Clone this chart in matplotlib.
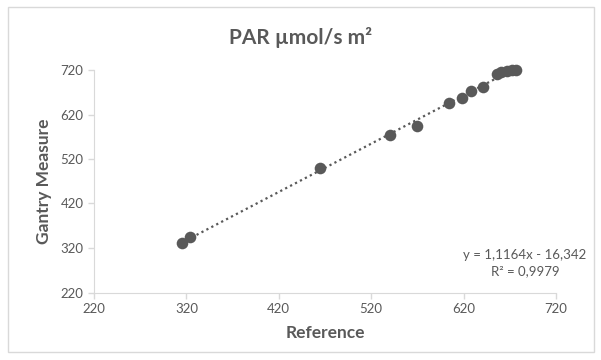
import numpy as np
import matplotlib
matplotlib.use("Agg")
import matplotlib.pyplot as plt
from matplotlib.patches import Rectangle

# values
reference = [315, 324, 465, 540, 570, 604, 618, 628, 641, 656, 661, 667, 672, 677]
gantry = [331, 345, 500, 573, 595, 646, 656, 673, 682, 711, 715, 718, 719, 720]
ticks = [220, 320, 420, 520, 620, 720]
fit_label = "y = 1,1164x - 16,342\nR² = 0,9979"

grey = "#595959"
light = "#d9d9d9"

plt.rcParams['font.family'] = ['Lato', 'DejaVu Sans']

fig = plt.figure(figsize=(6.01, 3.6), dpi=100)
fig.patches.append(Rectangle((8 / 601, 8 / 360), 586 / 601, 345 / 360, transform=fig.transFigure,
                             fill=False, edgecolor=light, linewidth=1))

ax = fig.add_axes([94 / 601, 1 - 292.5 / 360, 462 / 601, 222.5 / 360])

# trendline from a linear fit
coef = np.polyfit(reference, gantry, 1)
xs = np.array([min(reference), max(reference)])
ax.plot(xs, np.polyval(coef, xs), linestyle=(0, (1, 1.5)), color=grey, linewidth=1.6, zorder=2)

ax.scatter(reference, gantry, s=70, color=grey, zorder=3, linewidths=0, clip_on=False)

ax.set_xlim(220, 720)
ax.set_ylim(220, 720)
ax.set_xticks(ticks)
ax.set_yticks(ticks)
ax.tick_params(colors=light, labelcolor=grey, labelsize=9.5, length=4, width=1)

for side in ['top', 'right']:
    ax.spines[side].set_visible(False)
for side in ['left', 'bottom']:
    ax.spines[side].set_color(light)

ax.set_xlabel("Reference", fontsize=12.5, fontweight='bold', color=grey, labelpad=7)
ax.set_ylabel("Gantry Measure", fontsize=12.5, fontweight='bold', color=grey, labelpad=6)

fig.text(0.5, 1 - 37 / 360, "PAR µmol/s m²", ha='center', va='center',
         fontsize=15, fontweight='bold', color=grey)

fig.text(525 / 601, 1 - 263 / 360, fit_label, ha='center', va='center',
         fontsize=9.5, color=grey, linespacing=1.35)

fig.savefig("out.png", dpi=100)
